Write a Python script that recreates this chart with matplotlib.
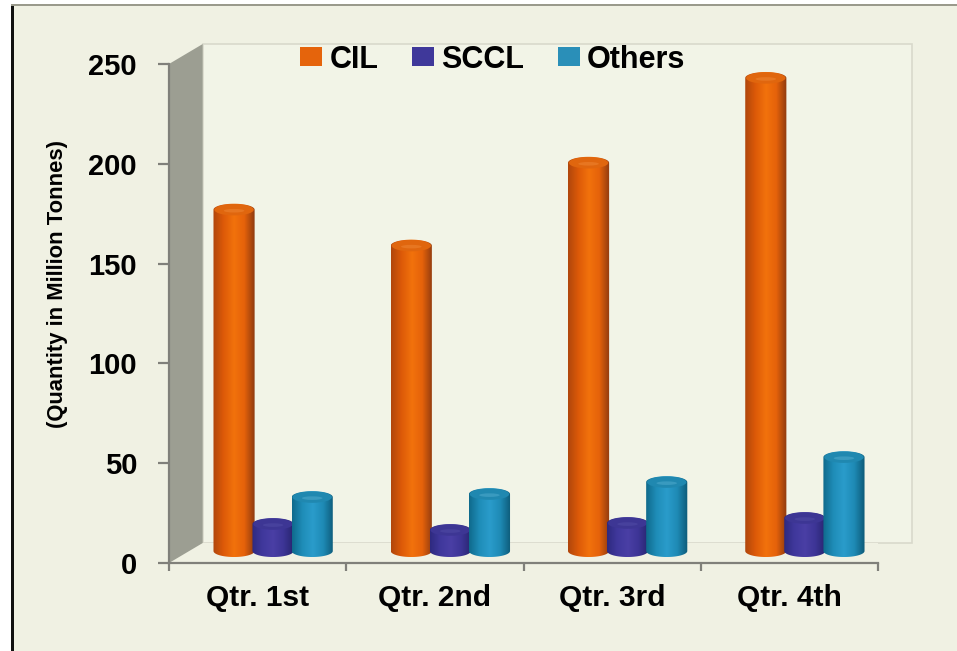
import matplotlib
matplotlib.use("Agg")
import matplotlib.pyplot as plt
import numpy as np
from matplotlib.colors import LinearSegmentedColormap
from matplotlib.patches import Ellipse, Patch, Polygon, Rectangle
from matplotlib.path import Path

quarters = ["Qtr. 1st", "Qtr. 2nd", "Qtr. 3rd", "Qtr. 4th"]
cil = [171, 153, 194.5, 237]
sccl = [13.5, 10.5, 14, 16.5]
others = [27, 28.5, 34.5, 47]
yticks = [0, 50, 100, 150, 200, 250]

bg = "#F0F1E3"
wall = "#F2F4E7"
gray = "#80807A"

plt.rcParams["font.family"] = ["Liberation Sans", "DejaVu Sans"]
plt.rcParams["font.weight"] = "bold"

fig = plt.figure(figsize=(9.57, 6.51), dpi=100, facecolor=bg)
ax = fig.add_axes([169 / 957, 88 / 651, 709 / 957, 499 / 651])
ax.patch.set_alpha(0)

# page edges: white strip, black rule on the left, gray rule on top
fig.patches.append(Rectangle((0, 0), 11 / 957, 1, transform=fig.transFigure, fc="white", ec="none"))
fig.patches.append(Rectangle((0, 646 / 651), 1, 5 / 651, transform=fig.transFigure, fc="white", ec="none"))
fig.patches.append(Rectangle((11 / 957, 0), 3 / 957, 646 / 651, transform=fig.transFigure, fc="#111111", ec="none"))
fig.patches.append(Rectangle((11 / 957, 645 / 651), 946 / 957, 1.5 / 651, transform=fig.transFigure, fc="#9A9A8C", ec="none"))

# 3d box, depth given in data units
depth_x, depth_y = 0.19, 10
ax.add_patch(Rectangle((depth_x, depth_y), 4, 250, fc=wall, ec="#D9D9CC", lw=1.2, clip_on=False, zorder=1))
ax.add_patch(Rectangle((0, 0), 4, depth_y, fc=bg, ec="none", clip_on=False, zorder=1.1))
ax.add_patch(Polygon([(0, 0), (0, 250), (depth_x, 260), (depth_x, 10)], fc="#9C9E92", ec="none", clip_on=False, zorder=1.2))


def cylinder(x, value, width, colors, cap, shine, zorder):
    cmap = LinearSegmentedColormap.from_list("c", colors)
    grad = np.linspace(0, 1, 128).reshape(1, -1)
    base = depth_y * 0.6
    half = 3.0  # half height of the end ellipses, in data units
    t = np.linspace(np.pi, 2 * np.pi, 40)
    xs = x + width / 2 * np.cos(t)
    low = base + half * np.sin(t)
    high = base + value - half * np.sin(t)
    verts = np.r_[np.c_[xs, low], np.c_[xs[::-1], high[::-1]]]
    path = Path(np.r_[verts, verts[:1]], closed=True)
    im = ax.imshow(grad, cmap=cmap, aspect="auto", zorder=zorder,
                   extent=(x - width / 2, x + width / 2, base - half, base + value + half))
    im.set_clip_path(path, transform=ax.transData)
    ax.add_patch(Ellipse((x, base + value), width * 0.96, half * 1.9, fc=cap, ec="none", zorder=zorder + 0.01))
    ax.add_patch(Ellipse((x, base + value - 0.5), width * 0.5, half * 0.6, fc=shine, ec="none", alpha=0.45, zorder=zorder + 0.02))


series = [
    (cil, 0.367, ["#B0460C", "#DD5A08", "#F2720C", "#E5620A", "#8E3A10"], "#E0660E", "#F08A3A"),
    (sccl, 0.587, ["#2E2A80", "#40389C", "#4A3FA5", "#3D3596", "#27246E"], "#3D3694", "#5550A8"),
    (others, 0.808, ["#0F6A8C", "#1F8DB8", "#2A9CCB", "#1E8AB5", "#0D5A78"], "#2088B0", "#58B0D2"),
]
for s, (values, off, colors, cap, shine) in enumerate(series):
    for i, v in enumerate(values):
        cylinder(i + off, v, 0.232, colors, cap, shine, 3 + s)

ax.set_xlim(0, 4)
ax.set_ylim(0, 250)
ax.set_xticks(range(5))
ax.set_xticklabels([])
ax.set_xticks([0.5, 1.5, 2.5, 3.5], minor=True)
ax.set_xticklabels(quarters, minor=True, fontsize=21.5, fontweight="bold")
ax.tick_params(axis="x", which="minor", length=0, pad=15)
ax.tick_params(axis="x", which="major", length=5.8, width=1.6, color=gray)
ax.set_yticks(yticks)
ax.set_yticklabels(yticks, fontsize=21, fontweight="bold")
ax.tick_params(axis="y", length=8, width=1.6, color=gray, pad=15)
for name in ["top", "right"]:
    ax.spines[name].set_visible(False)
for name in ["left", "bottom"]:
    ax.spines[name].set_color(gray)
    ax.spines[name].set_linewidth(1.6)
    ax.spines[name].set_zorder(2)

fig.text(58 / 957, 367 / 651, "(Quantity in Million Tonnes)", rotation=90, ha="center", va="center",
         fontsize=15.8, fontweight="bold")

handles = [Patch(fc="#E5640C", label="CIL"), Patch(fc="#3F389A", label="SCCL"), Patch(fc="#2A8FB8", label="Others")]
fig.legend(handles=handles, ncol=3, frameon=False, loc="upper left", bbox_to_anchor=(300 / 957, 1 - 44.5 / 651),
           borderpad=0, borderaxespad=0, fontsize=22, handlelength=0.72, handleheight=0.56,
           handletextpad=0.24, columnspacing=1.1)

fig.savefig("out.png", dpi=100, facecolor=bg)
